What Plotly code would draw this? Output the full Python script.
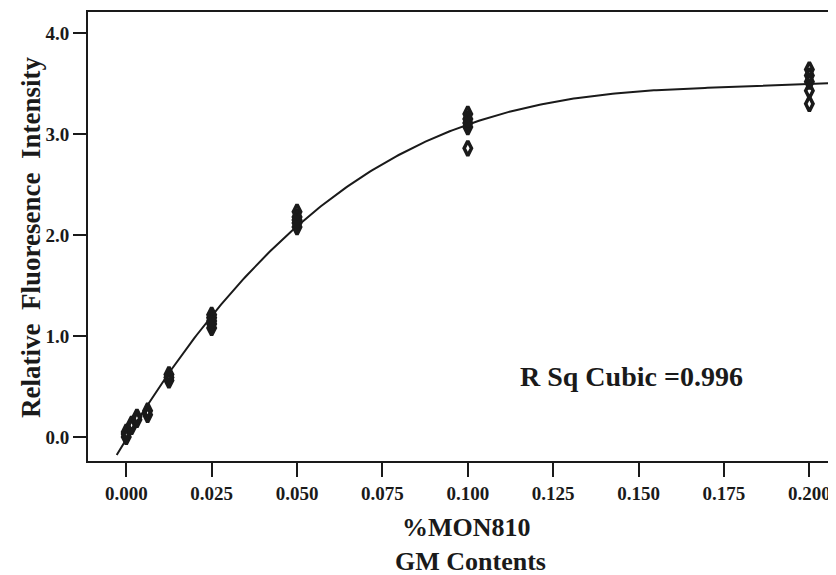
import numpy as np
import plotly.graph_objects as go

# Measured data (GM content %MON810 vs relative fluorescence intensity)
gm_content = [0.0, 0.0, 0.0,
              0.0015625, 0.0015625,
              0.003125, 0.003125,
              0.00625, 0.00625,
              0.0125, 0.0125, 0.0125,
              0.025, 0.025, 0.025, 0.025, 0.025,
              0.05, 0.05, 0.05, 0.05, 0.05,
              0.1, 0.1, 0.1, 0.1, 0.1,
              0.2, 0.2, 0.2, 0.2, 0.2]
fluorescence = [0.00, 0.03, 0.05,
                0.10, 0.13,
                0.17, 0.20,
                0.22, 0.26,
                0.56, 0.59, 0.62,
                1.08, 1.12, 1.15, 1.18, 1.21,
                2.08, 2.12, 2.15, 2.18, 2.23,
                3.07, 3.11, 3.15, 3.20, 2.86,
                3.52, 3.58, 3.64, 3.43, 3.30]

x_ticks = [0.0, 0.025, 0.05, 0.075, 0.1, 0.125, 0.15, 0.175, 0.2]
x_tick_labels = ["0.000", "0.025", "0.050", "0.075", "0.100", "0.125", "0.150", "0.175", "0.200"]
y_ticks = [0.0, 1.0, 2.0, 3.0, 4.0]
y_tick_labels = ["0.0", "1.0", "2.0", "3.0", "4.0"]
r_sq_text = "R Sq Cubic =0.996"

# Cubic fit through the data
coef = np.polyfit(gm_content, fluorescence, 3)
fit_x = np.linspace(-0.0028, 0.21, 300)
fit_y = np.polyval(coef, fit_x)

FONT = "Liberation Serif, Times New Roman, serif"
INK = "#1a1a1a"

fig = go.Figure()
fig.add_trace(go.Scatter(x=fit_x, y=fit_y, mode="lines",
                         line=dict(color=INK, width=2), showlegend=False,
                         hoverinfo="skip"))
fig.add_trace(go.Scatter(x=gm_content, y=fluorescence, mode="markers",
                         marker=dict(symbol="diamond-tall-open", size=10.5,
                                     color=INK, line=dict(color=INK, width=3.5)),
                         showlegend=False))

OFF = 8  # page body margin
W, H = 836 - OFF, 575 - OFF
ml, mr, mt, mb = 88 - OFF, 0, 12 - OFF, 575 - 461
pw, ph = W - ml - mr, H - mt - mb

fig.update_layout(
    width=W, height=H,
    margin=dict(l=ml, r=mr, t=mt, b=mb, pad=0),
    paper_bgcolor="white", plot_bgcolor="white",
    font=dict(family=FONT, color=INK),
    xaxis=dict(range=[-0.0112, 0.2078], tickvals=x_ticks,
               ticktext=["<b>%s</b>" % t for t in x_tick_labels],
               showgrid=False, zeroline=False,
               showline=True, linecolor=INK, linewidth=2, mirror=True,
               ticks="outside", ticklen=14, tickwidth=2, tickcolor=INK,
               tickfont=dict(size=19, family=FONT, color=INK)),
    yaxis=dict(range=[-0.238, 4.21], tickvals=y_ticks,
               ticktext=["<b>%s</b>" % t for t in y_tick_labels],
               showgrid=False, zeroline=False,
               showline=True, linecolor=INK, linewidth=2,
               ticks="outside", ticklen=13, tickwidth=2, tickcolor=INK,
               tickfont=dict(size=19, family=FONT, color=INK)),
)

def px_x(p):
    return (p - OFF - ml) / pw

def px_y(p):
    return (H + OFF - mb - p) / ph

common = dict(xref="paper", yref="paper", showarrow=False,
              xanchor="center", yanchor="middle")
fig.add_annotation(text="<b>%MON810</b>", x=px_x(466), y=px_y(527),
                   font=dict(size=26, family=FONT, color=INK), **common)
fig.add_annotation(text="<b>GM Contents</b>", x=px_x(470), y=px_y(561),
                   font=dict(size=26, family=FONT, color=INK), **common)
fig.add_annotation(text="<b>Relative&nbsp;&nbsp;Fluoresence&nbsp;&nbsp;Intensity</b>",
                   textangle=-90, x=px_x(31), y=px_y(238),
                   font=dict(size=27, family=FONT, color=INK), **common)
fig.add_annotation(text="<b>%s</b>" % r_sq_text, x=px_x(631), y=px_y(376),
                   font=dict(size=28, family=FONT, color=INK), **common)

fig.write_html("out.html")
